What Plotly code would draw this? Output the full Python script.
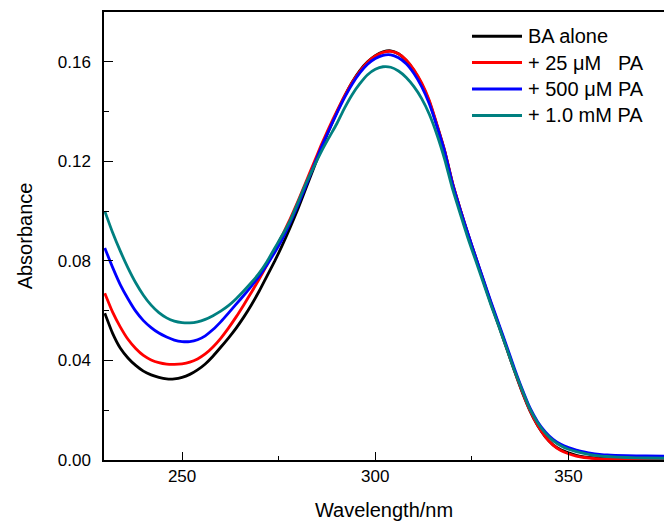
import plotly.graph_objects as go

wavelength = [230, 232, 234, 236, 238, 240, 242, 244, 246, 248, 250, 252, 254, 256, 258, 260,
              262, 264, 266, 268, 270, 272, 274, 276, 278, 280, 282, 284, 286, 288, 290, 292,
              294, 296, 298, 300, 302, 304, 306, 308, 310, 312, 314, 316, 318, 320, 322, 324,
              326, 328, 330, 332, 334, 336, 338, 340, 342, 344, 346, 348, 350, 352, 354, 356,
              358, 360, 365, 370, 375]

ba_alone = [0.0590, 0.0510, 0.0450, 0.0410, 0.0380, 0.0357, 0.0342, 0.0332, 0.0326, 0.0326,
            0.0332, 0.0344, 0.0362, 0.0386, 0.0417, 0.0453, 0.0490, 0.0530, 0.0575, 0.0625,
            0.0680, 0.0740, 0.0800, 0.0865, 0.0935, 0.1010, 0.1090, 0.1170, 0.1250, 0.1325,
            0.1395, 0.1460, 0.1518, 0.1565, 0.1600, 0.1625, 0.1640, 0.1644, 0.1632, 0.1605,
            0.1565, 0.1510, 0.1438, 0.1342, 0.1238, 0.1110, 0.1005, 0.0905, 0.0812, 0.0718,
            0.0625, 0.0537, 0.0448, 0.0358, 0.0273, 0.0198, 0.0138, 0.0093, 0.0061, 0.0041,
            0.0029, 0.0019, 0.0013, 0.0009, 0.0007, 0.0006, 0.0005, 0.0004, 0.0003]

pa_25uM = [0.0670, 0.0595, 0.0535, 0.0485, 0.0448, 0.0420, 0.0402, 0.0391, 0.0385, 0.0384,
           0.0386, 0.0393, 0.0406, 0.0426, 0.0454, 0.0489, 0.0530, 0.0575, 0.0624, 0.0675,
           0.0728, 0.0785, 0.0845, 0.0905, 0.0970, 0.1040, 0.1115, 0.1190, 0.1265, 0.1335,
           0.1400, 0.1462, 0.1517, 0.1562, 0.1598, 0.1623, 0.1638, 0.1642, 0.1632, 0.1607,
           0.1568, 0.1515, 0.1443, 0.1345, 0.1240, 0.1112, 0.1007, 0.0907, 0.0814, 0.0720,
           0.0628, 0.0540, 0.0450, 0.0360, 0.0275, 0.0199, 0.0139, 0.0093, 0.0060, 0.0038,
           0.0025, 0.0016, 0.0010, 0.0007, 0.0005, 0.0004, 0.0003, 0.0002, 0.0002]

pa_500uM = [0.0852, 0.0775, 0.0705, 0.0648, 0.0598, 0.0560, 0.0532, 0.0510, 0.0494, 0.0482,
            0.0476, 0.0476, 0.0483, 0.0499, 0.0524, 0.0555, 0.0590, 0.0626, 0.0662, 0.0700,
            0.0740, 0.0785, 0.0835, 0.0890, 0.0955, 0.1025, 0.1100, 0.1178, 0.1255, 0.1325,
            0.1392, 0.1455, 0.1510, 0.1555, 0.1590, 0.1613, 0.1626, 0.1628, 0.1616, 0.1592,
            0.1553, 0.1500, 0.1430, 0.1338, 0.1236, 0.1108, 0.1005, 0.0908, 0.0815, 0.0723,
            0.0632, 0.0545, 0.0457, 0.0368, 0.0285, 0.0210, 0.0154, 0.0113, 0.0083, 0.0063,
            0.0050, 0.0040, 0.0033, 0.0027, 0.0023, 0.0020, 0.0017, 0.0016, 0.0015]

pa_1mM = [0.1000, 0.0915, 0.0840, 0.0772, 0.0712, 0.0662, 0.0622, 0.0592, 0.0571, 0.0558,
          0.0552, 0.0551, 0.0555, 0.0565, 0.0580, 0.0598, 0.0620, 0.0648, 0.0680, 0.0714,
          0.0752, 0.0798, 0.0852, 0.0905, 0.0963, 0.1035, 0.1110, 0.1175, 0.1238, 0.1295,
          0.1350, 0.1413, 0.1468, 0.1512, 0.1548, 0.1570, 0.1580, 0.1578, 0.1563, 0.1537,
          0.1500, 0.1452, 0.1388, 0.1305, 0.1205, 0.1088, 0.0988, 0.0890, 0.0800, 0.0710,
          0.0620, 0.0535, 0.0448, 0.0360, 0.0280, 0.0205, 0.0150, 0.0108, 0.0078, 0.0057,
          0.0043, 0.0034, 0.0027, 0.0021, 0.0017, 0.0014, 0.0010, 0.0008, 0.0007]

series_names = ["BA alone", "+ 25 \u03bcM\u00a0\u00a0\u00a0PA", "+ 500 \u03bcM PA", "+ 1.0 mM PA"]
series_values = [ba_alone, pa_25uM, pa_500uM, pa_1mM]
series_colors = ["#000000", "#ff0000", "#0000ff", "#008080"]

y_ticks = [0.00, 0.04, 0.08, 0.12, 0.16]
y_ticklabels = ["0.00", "0.04", "0.08", "0.12", "0.16"]
x_ticks = [250, 300, 350]
x_ticklabels = ["250", "300", "350"]

FONT = "Arial, 'Liberation Sans', sans-serif"

fig = go.Figure()
for name, vals, col in zip(series_names, series_values, series_colors):
    fig.add_trace(go.Scatter(x=wavelength, y=vals, mode="lines", name=name,
                             line=dict(color=col, width=2.8, shape="spline", smoothing=0.5),
                             showlegend=False))

# manual legend (long line samples as in the original)
leg_top = 0.946
leg_step = 26.4 / 448
for i, (name, col) in enumerate(zip(series_names, series_colors)):
    yy = leg_top - i * leg_step
    fig.add_shape(type="line", xref="paper", yref="paper",
                  x0=(472 - 104) / 560, x1=(522 - 104) / 560, y0=yy, y1=yy,
                  line=dict(color=col, width=3))
    fig.add_annotation(xref="paper", yref="paper", x=(526 - 104) / 560, y=yy,
                       text=name, showarrow=False, xanchor="left", yanchor="middle",
                       font=dict(family=FONT, size=20, color="#000000"))

fig.update_layout(
    width=664, height=523,
    margin=dict(l=104, r=0, t=12, b=63),
    paper_bgcolor="white", plot_bgcolor="white",
    font=dict(family=FONT, color="#000000"),
    showlegend=False,
)
fig.update_xaxes(
    range=[229.8, 374.7], showgrid=False, zeroline=False,
    showline=True, linecolor="#000000", linewidth=1.5, mirror=True,
    ticks="inside", ticklen=8, tickwidth=1.3, tickcolor="#000000",
    tickvals=x_ticks, ticktext=x_ticklabels,
    minor=dict(ticks="inside", ticklen=4, tickwidth=1.3, tickcolor="#000000",
               tickvals=[275, 325]),
    tickfont=dict(family=FONT, size=17),
    title=dict(text="Wavelength/nm", font=dict(family=FONT, size=20), standoff=18),
)
fig.update_yaxes(
    range=[0, 0.18], showgrid=False, zeroline=False,
    showline=True, linecolor="#000000", linewidth=1.5,
    ticks="inside", ticklen=9, tickwidth=1.3, tickcolor="#000000",
    tickvals=y_ticks, ticktext=y_ticklabels,
    minor=dict(ticks="inside", ticklen=5, tickwidth=1.3, tickcolor="#000000",
               tickvals=[0.02, 0.06, 0.10, 0.14]),
    tickfont=dict(family=FONT, size=17),
    ticklabelstandoff=8,
    title=dict(text="Absorbance", font=dict(family=FONT, size=20), standoff=20),
)

fig.write_html("out.html")
